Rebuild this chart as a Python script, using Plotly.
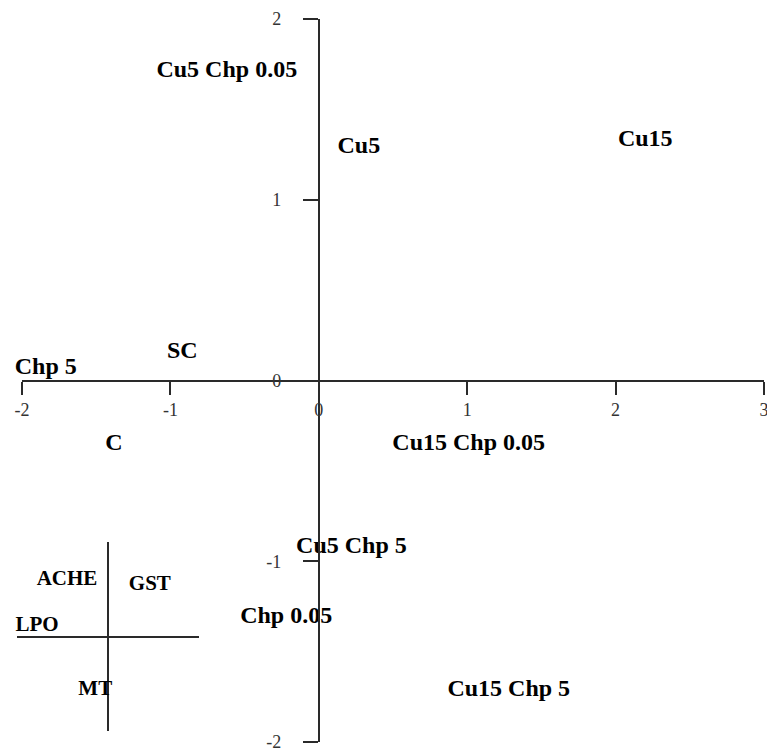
import plotly.graph_objects as go

# Treatment scores on the first two components
treatments = ["Cu5 Chp 0.05", "Cu5", "Cu15", "SC", "Chp 5", "C",
              "Cu15 Chp 0.05", "Cu5 Chp 5", "Chp 0.05", "Cu15 Chp 5"]
score_x = [-0.62, 0.27, 2.20, -0.92, -1.84, -1.38, 1.01, 0.22, -0.22, 1.28]
score_y = [1.71, 1.29, 1.33, 0.155, 0.07, -0.35, -0.35, -0.92, -1.31, -1.71]

# Biomarker quadrant key
markers = ["ACHE", "GST", "LPO", "MT"]
marker_x = [-0.45, 0.46, -0.78, -0.14]
marker_y = [0.60, 0.545, 0.11, -0.56]

x_ticks = [-2, -1, 0, 1, 2, 3]
y_ticks = [-2, -1, 0, 1, 2]

W, H = 767, 751
x_rng = [-2, 3]
y_rng = [-2, 2]
x_dom = [22 / W, 764 / W]
y_dom = [(H - 742) / H, (H - 19) / H]

# place each axis line through the origin of the other axis
x_pos = y_dom[0] + (0 - y_rng[0]) / (y_rng[1] - y_rng[0]) * (y_dom[1] - y_dom[0])
y_pos = x_dom[0] + (0 - x_rng[0]) / (x_rng[1] - x_rng[0]) * (x_dom[1] - x_dom[0])

label_font = dict(family="Liberation Serif", size=24, color="black")
key_font = dict(family="Liberation Serif", size=21, color="black")
tick_font = dict(family="Liberation Serif", size=18, color="#333333")
axis_col = "#2a2a2a"

fig = go.Figure()
fig.add_trace(go.Scatter(
    x=score_x, y=score_y, text=[f"<b>{t}</b>" for t in treatments],
    mode="text", textposition="middle center", textfont=label_font,
    cliponaxis=False, hoverinfo="skip", showlegend=False))

fig.add_trace(go.Scatter(
    x=marker_x, y=marker_y, text=[f"<b>{t}</b>" for t in markers],
    mode="text", textposition="middle center", textfont=key_font,
    xaxis="x2", yaxis="y2", cliponaxis=False, hoverinfo="skip",
    showlegend=False))

fig.update_layout(
    width=W, height=H, margin=dict(l=0, r=0, t=0, b=0),
    paper_bgcolor="white", plot_bgcolor="rgba(0,0,0,0)",
    xaxis=dict(range=x_rng, domain=x_dom, anchor="free", position=x_pos,
               automargin=False, ticklabeloverflow="allow",
               tickvals=x_ticks, ticktext=[str(v) for v in x_ticks],
               ticks="outside", ticklen=13, tickwidth=2, tickcolor=axis_col,
               showline=True, linecolor=axis_col, linewidth=2,
               showgrid=False, zeroline=False, tickfont=tick_font),
    yaxis=dict(range=y_rng, domain=y_dom, anchor="free", position=y_pos,
               automargin=False, ticklabeloverflow="allow",
               tickvals=y_ticks, ticktext=[str(v) for v in y_ticks],
               ticks="outside", ticklen=15, tickwidth=2, tickcolor=axis_col,
               showline=True, linecolor=axis_col, linewidth=2,
               showgrid=False, zeroline=False, tickfont=tick_font,
               ticklabelstandoff=18),
    xaxis2=dict(range=[-1, 1], domain=[17 / W, 199 / W], anchor="y2",
                automargin=False,
                showticklabels=False, ticks="", showgrid=False,
                showline=False, zeroline=True, zerolinecolor=axis_col,
                zerolinewidth=2),
    yaxis2=dict(range=[-1, 1], domain=[(H - 731) / H, (H - 542) / H],
                anchor="x2", automargin=False,
                showticklabels=False, ticks="", showgrid=False,
                showline=False, zeroline=True, zerolinecolor=axis_col,
                zerolinewidth=2),
)

fig.write_html("out.html")
